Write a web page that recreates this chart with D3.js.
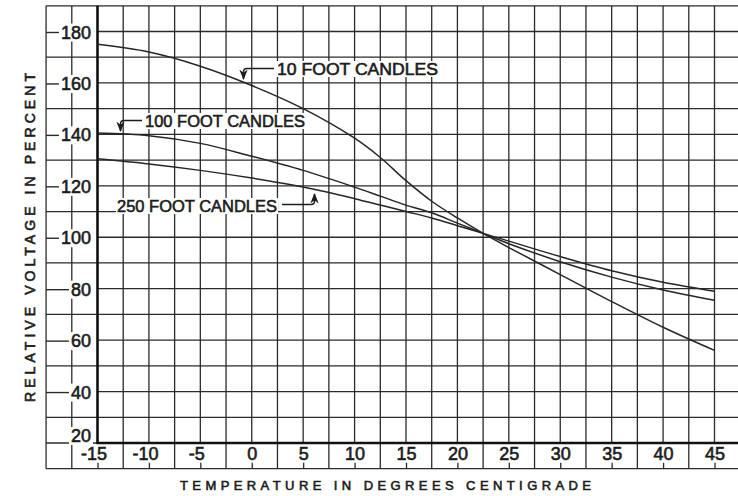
<!DOCTYPE html>
<html>
<head>
<meta charset="utf-8">
<script src="https://cdn.jsdelivr.net/npm/d3@7"></script>
<style>
body { margin: 0; background: #fff; }
svg { display: block; background: #fff; }
text { font-family: "Liberation Sans", Arial, sans-serif; fill: #1c1c1c; }
</style>
</head>
<body>
<svg id="chart" width="738" height="496"></svg>
<script>
'use strict'

// temperature (deg C) at which the curves were read
const temps = [-15, -10, -5, 0, 5, 10, 12.5, 15, 17.5, 20, 22.5, 25, 30, 35, 40, 45]
// relative voltage in percent
const fc10 = [175, 172, 166.5, 159, 150, 138.5, 131, 122, 114, 107.5, 101.5, 96, 85.5, 75, 65, 56]
const fc100 = [140.5, 139.5, 136.5, 131.5, 126, 119.5, 116, 112.5, 109.5, 105.5, 101.5, 97.5, 90.5, 84.5, 79.5, 75.5]
const fc250 = [130.5, 128.5, 126, 123, 119.5, 115, 112.5, 110, 107.5, 104.5, 101.5, 98.5, 92.5, 87, 82.5, 79]

const xTicks = [-15, -10, -5, 0, 5, 10, 15, 20, 25, 30, 35, 40, 45]
const yTicks = [20, 40, 60, 80, 100, 120, 140, 160, 180]

const seriesNames = ['10 FOOT  CANDLES', '100 FOOT CANDLES', '250 FOOT CANDLES']

const chartWidth = 738
const ink = '#2b2b2b'
const textInk = '#1c1c1c'

const x = d3.scaleLinear().domain([-15, 45]).range([97.5, 714.5])
const y = d3.scaleLinear().domain([20, 180]).range([443, 31.5])

const svg = d3.select('#chart')

const gridLeft = x(-20)
const gridTop = y(190)
const gridBottom = y(10)

// ---- graph paper ----
const grid = svg.append('g')
    .attr('stroke', ink)
    .attr('stroke-width', 1.3)
    .attr('fill', 'none')

// vertical lines every 2.5 degrees; the labelled ones stop at the axis
grid.selectAll('.v')
    .data(d3.range(-17.5, 48, 2.5).filter(d => d !== -15))
    .enter()
    .append('line')
    .attr('x1', d => x(d))
    .attr('x2', d => x(d))
    .attr('y1', gridTop)
    .attr('y2', d => (d % 5 === 0) ? y(20) : gridBottom)

// horizontal lines every 10 percent; the labelled ones start at the axis
grid.selectAll('.h')
    .data(d3.range(30, 191, 10))
    .enter()
    .append('line')
    .attr('x1', d => (d % 20 === 0) ? x(-15) : gridLeft)
    .attr('x2', chartWidth)
    .attr('y1', d => y(d))
    .attr('y2', d => y(d))

// frame: left edge, bottom edge, and the strip under the axis
grid.append('line')
    .attr('x1', gridLeft).attr('x2', gridLeft)
    .attr('y1', gridTop).attr('y2', gridBottom)
grid.append('line')
    .attr('x1', gridLeft).attr('x2', chartWidth)
    .attr('y1', gridBottom).attr('y2', gridBottom)
grid.append('line')
    .attr('x1', gridLeft).attr('x2', x(-15))
    .attr('y1', y(20)).attr('y2', y(20))

// heavy axes
svg.append('line')
    .attr('x1', x(-15)).attr('x2', x(-15))
    .attr('y1', gridTop).attr('y2', y(20) + 1)
    .attr('stroke', '#111').attr('stroke-width', 2.6)
svg.append('line')
    .attr('x1', x(-15) - 1).attr('x2', chartWidth)
    .attr('y1', y(20)).attr('y2', y(20))
    .attr('stroke', '#111').attr('stroke-width', 2.6)

// ---- x axis: small ticks rising from the bottom edge, labels above them ----
const xAxis = svg.append('g')
    .attr('transform', 'translate(0,' + gridBottom + ')')
    .call(d3.axisTop(x)
        .tickValues(xTicks)
        .tickSize(6)
        .tickPadding(3)
        .tickFormat(d => (d < 0 ? '-' : '') + Math.abs(d)))
xAxis.select('.domain').remove()
xAxis.selectAll('line').attr('stroke', ink).attr('stroke-width', 1.3)
xAxis.selectAll('text')
    .attr('font-family', '"Liberation Sans", Arial, sans-serif')
    .attr('font-size', 18)
    .attr('fill', textInk)
    .attr('stroke', textInk)
    .attr('stroke-width', 0.6)
    .attr('dx', d => d < 0 ? -4 : 0)

// ---- y axis: dash, label, right-aligned before the axis ----
const yLab = svg.append('g')
const yBg = yLab.append('g')
yLab.selectAll('text')
    .data(yTicks)
    .enter()
    .append('text')
    .attr('x', 91)
    .attr('y', d => d === 20 ? y(d) - 7 : y(d) + 1)
    .attr('text-anchor', 'end')
    .attr('dominant-baseline', 'central')
    .attr('font-size', 18)
    .attr('stroke', textInk)
    .attr('stroke-width', 0.6)
    .text(d => d)
yLab.selectAll('text').each(function (d) {
    const b = this.getBBox()
    // blank the paper behind the figures
    yBg.append('rect')
        .attr('x', b.x - 2).attr('y', b.y + 1)
        .attr('width', b.width + 4).attr('height', b.height - 2)
        .attr('fill', '#fff')
    if (d === 20) return
    yLab.append('line')
        .attr('x1', gridLeft)
        .attr('x2', b.x - 2)
        .attr('y1', y(d) + 1)
        .attr('y2', y(d) + 1)
        .attr('stroke', ink)
        .attr('stroke-width', 1.4)
})

// ---- curves ----
const line = d3.line()
    .x(d => x(d[0]))
    .y(d => y(d[1]))
    .curve(d3.curveCatmullRom.alpha(0.5))

svg.append('g')
    .selectAll('path')
    .data([fc10, fc100, fc250])
    .enter()
    .append('path')
    .attr('d', vals => line(temps.map((t, i) => [t, vals[i]])))
    .attr('fill', 'none')
    .attr('stroke', '#262626')
    .attr('stroke-width', 1.5)

// ---- curve labels with leader arrows ----
svg.append('defs').append('marker')
    .attr('id', 'arrow')
    .attr('viewBox', '0 0 10 10')
    .attr('refX', 9).attr('refY', 5)
    .attr('markerWidth', 7).attr('markerHeight', 7)
    .attr('orient', 'auto')
    .append('path')
    .attr('d', 'M0,1 L10,5 L0,9 L3,5 Z')
    .attr('fill', textInk)

function curveLabel(txt, tx, ty, len) {
    const g = svg.append('g')
    g.append('rect')
        .attr('fill', '#fff')
        .attr('x', tx - 1).attr('y', ty - 14)
        .attr('width', len + 2).attr('height', 16)
    return g.append('text')
        .attr('x', tx)
        .attr('y', ty)
        .attr('font-size', 17)
        .attr('textLength', len)
        .attr('lengthAdjust', 'spacingAndGlyphs')
        .attr('stroke', textInk)
        .attr('stroke-width', 0.6)
        .text(txt)
}

function leader(path) {
    svg.append('path')
        .attr('d', path)
        .attr('fill', 'none')
        .attr('stroke', textInk)
        .attr('stroke-width', 1.5)
        .attr('marker-end', 'url(#arrow)')
}

curveLabel(seriesNames[0], 277, 75, 161)
leader('M274,68.5 H247 Q243.5,68.5 243.5,72 V79')

curveLabel(seriesNames[1], 145, 127, 160)
leader('M142,120.5 H124 Q120.5,120.5 120.5,124 V131')

curveLabel(seriesNames[2], 117, 212, 160)
leader('M282,204.5 H311 Q314.5,204.5 314.5,201 V194')

// ---- axis titles ----
svg.append('text')
    .attr('x', 180)
    .attr('y', 490)
    .attr('font-size', 13)
    .attr('textLength', 411)
    .attr('lengthAdjust', 'spacing')
    .attr('stroke', textInk)
    .attr('stroke-width', 0.6)
    .text('TEMPERATURE IN DEGREES CENTIGRADE')

svg.append('text')
    .attr('transform', 'translate(35,402) rotate(-90)')
    .attr('font-size', 14)
    .attr('textLength', 329)
    .attr('lengthAdjust', 'spacing')
    .attr('stroke', textInk)
    .attr('stroke-width', 0.6)
    .text('RELATIVE VOLTAGE IN PERCENT')
</script>
</body>
</html>
